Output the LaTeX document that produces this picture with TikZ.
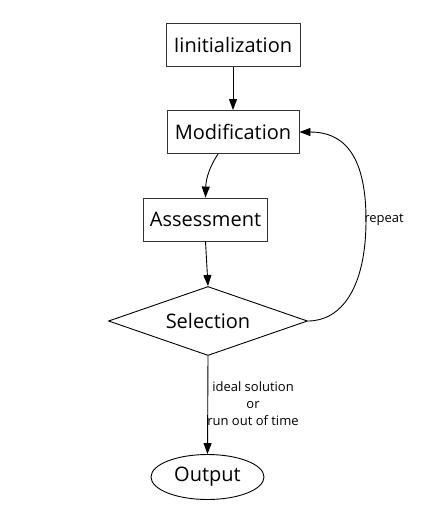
\documentclass[tikz,border=0pt]{standalone}
\usepackage{fontspec}
\setmainfont{Open Sans}
\usetikzlibrary{arrows.meta,shapes.geometric}
\begin{document}
\begin{tikzpicture}[x=1pt,y=-1pt,
  box/.style={draw=black!80,line width=0.9pt,rectangle,minimum height=43pt,font=\fontsize{20}{24}\selectfont,inner xsep=6pt},
  conn/.style={line width=0.9pt,-{Triangle[length=11pt,width=8pt]}},
  lbl/.style={font=\fontsize{13}{17}\selectfont,align=center}]
\useasboundingbox (0,0) rectangle (440,520);
\node[box,minimum width=134pt] (init) at (233,45) {Iinitialization};
\node[box,minimum width=132pt] (mod) at (233,132) {Modification};
\node[box,minimum width=121pt] (ass) at (205.5,219.5) {Assessment};
\node[draw,line width=0.9pt,diamond,aspect=2.88,minimum width=199pt,minimum height=69pt,inner sep=0pt,font=\fontsize{20}{24}\selectfont] (sel) at (208,321) {Selection};
\node[draw,line width=0.9pt,ellipse,minimum width=113pt,minimum height=45pt,inner sep=0pt,font=\fontsize{20}{24}\selectfont] (out) at (207.5,477) {Output};
\draw[conn] (init.south) -- (mod.north);
\draw[conn] (218,154) .. controls (210,166) and (206,178) .. (ass.north);
\draw[conn] (ass.south) -- (sel.north);
\draw[conn] (sel.south) -- (out.north);
\draw[conn] (sel.east) .. controls (340,321) and (366,290) .. (366,220) .. controls (366,150) and (340,132) .. (mod.east);
\node[lbl] (rep) at (384,220) {repeat};
\node[lbl] (ideal) at (253,404) {ideal solution\\or\\run out of time};
\end{tikzpicture}
\end{document}
